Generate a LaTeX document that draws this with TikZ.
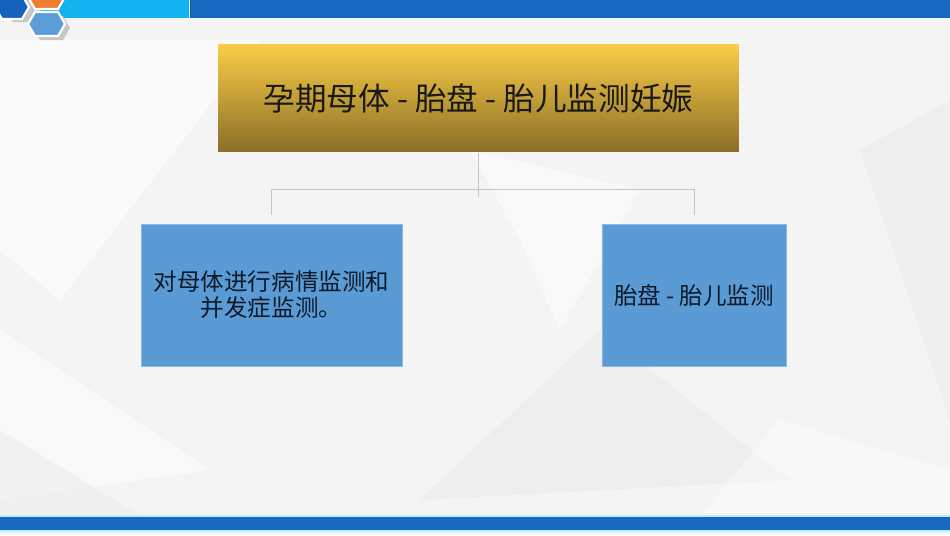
\documentclass[tikz,border=0pt]{standalone}
\usepackage{fontspec}
\setmainfont{Noto Sans CJK SC}
\usetikzlibrary{positioning}
\definecolor{bgbase}{HTML}{F4F4F4}
\definecolor{bgdark}{HTML}{EEEEEE}
\definecolor{barcyan}{HTML}{12B3EE}
\definecolor{barblue}{HTML}{1868BF}
\definecolor{rimcyan}{HTML}{BDEFFF}
\definecolor{hexdark}{HTML}{1462BC}
\definecolor{hexorange}{HTML}{EE7D2F}
\definecolor{hexlight}{HTML}{5C9CD8}
\definecolor{goldtop}{HTML}{FBCD45}
\definecolor{goldbot}{HTML}{8A6E28}
\definecolor{boxblue}{HTML}{5B9BD5}
\definecolor{boxrim}{HTML}{8DB8E2}
\definecolor{textblue}{HTML}{0E1A28}
\begin{document}
\begin{tikzpicture}[x=0.02cm, y=-0.02cm, semithick,
    conn/.style={draw=gray!45, line width=0.5pt},
    hexa/.style={draw=white, line width=1.2pt},
    titlebox/.style={top color=goldtop, bottom color=goldbot, minimum width=10.42cm, minimum height=2.16cm, inner sep=0pt, text=black!90, font=\fontsize{18}{22}\selectfont},
    subbox/.style={fill=boxblue, draw=boxrim, line width=0.5pt, minimum height=2.84cm, inner sep=0pt, align=center, text=textblue, font=\fontsize{13.4}{14.7}\selectfont}]
    \useasboundingbox (0, 0) rectangle (950, 535);
    % background
    \fill[bgbase] (0, 0) rectangle (950, 535);
    \fill[white, opacity=0.6] (0, 40) -- (260, 40) -- (60, 300) -- (0, 250) -- cycle;
    \fill[white, opacity=0.5] (470, 150) -- (640, 190) -- (560, 330) -- (520, 240) -- cycle;
    \fill[bgdark] (860, 150) -- (950, 100) -- (950, 420) -- cycle;
    \fill[bgdark] (600, 330) -- (790, 480) -- (420, 500) -- cycle;
    \fill[white, opacity=0.5] (0, 330) -- (210, 470) -- (0, 500) -- cycle;
    \fill[bgdark, opacity=0.7] (0, 430) -- (140, 515) -- (0, 515) -- cycle;
    \fill[white, opacity=0.4] (780, 420) -- (950, 470) -- (950, 515) -- (700, 515) -- cycle;
    % top bar and hexagons
    \fill[barcyan] (40, 0) rectangle (189, 18);
    \fill[barblue] (190, 0) rectangle (950, 18);
    \fill[gray!45] (6, 10) -- (13, -2) -- (33, -2) -- (40, 10) -- (33, 22) -- (13, 22) -- cycle;
    \fill[gray!45] (33, 28) -- (40, 16) -- (63, 16) -- (70, 28) -- (63, 40) -- (40, 40) -- cycle;
    \filldraw[hexa, fill=hexdark] (-5, 7) -- (2, -5) -- (22, -5) -- (29, 7) -- (22, 19) -- (2, 19) -- cycle;
    \filldraw[hexa, fill=hexorange] (28, -3) -- (35, -15) -- (58, -15) -- (65, -3) -- (58, 9) -- (35, 9) -- cycle;
    \filldraw[hexa, fill=hexlight] (28, 24) -- (35, 12) -- (58, 12) -- (65, 24) -- (58, 36) -- (35, 36) -- cycle;
    % bottom bar
    \fill[rimcyan] (0, 515) rectangle (950, 532);
    \fill[barblue] (0, 517) rectangle (950, 530);
    % chart
    \node[titlebox] (title) at (478.5, 98) {孕期母体 - 胎盘 - 胎儿监测妊娠};
    \node[subbox, minimum width=5.22cm] (mother) at (271.5, 295) {对母体进行病情监测和\\并发症监测。};
    \node[subbox, minimum width=3.68cm] (fetus) at (694, 295) {胎盘 - 胎儿监测};
    \coordinate (hub) at (478.5, 197);
    \coordinate (left) at (271.5, 189);
    \coordinate (right) at (694, 189);
    \draw[conn] (title.south) -- (hub);
    \draw[conn] (left) -- (right);
    \draw[conn] (left) -- ([yshift=0.18cm]mother.north);
    \draw[conn] (right) -- ([yshift=0.18cm]fetus.north);
\end{tikzpicture}
\end{document}
